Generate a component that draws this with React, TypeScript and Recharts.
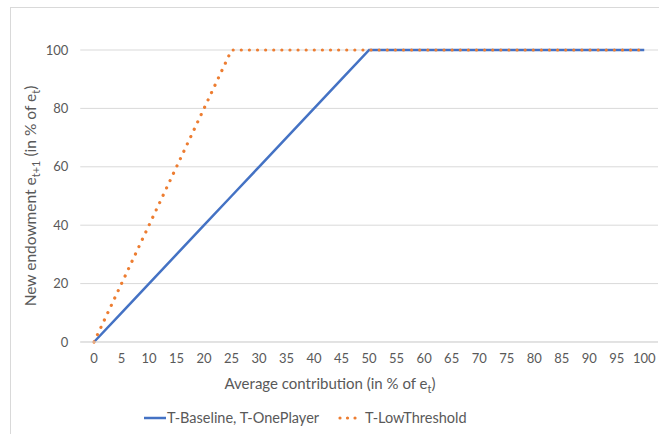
import { LineChart, Line, XAxis, YAxis, CartesianGrid, Label } from "recharts";

const contribution = [0, 5, 10, 15, 20, 25, 30, 35, 40, 45, 50, 55, 60, 65, 70, 75, 80, 85, 90, 95, 100];
const baseline = [0, 10, 20, 30, 40, 50, 60, 70, 80, 90, 100, 100, 100, 100, 100, 100, 100, 100, 100, 100, 100];
const lowThreshold = [0, 20, 40, 60, 80, 100, 100, 100, 100, 100, 100, 100, 100, 100, 100, 100, 100, 100, 100, 100, 100];
const yTicks = [0, 20, 40, 60, 80, 100];

const data = contribution.map((c, i) => ({
  c,
  baseline: baseline[i],
  low: lowThreshold[i],
}));

const BLUE = "#4472C4";
const ORANGE = "#ED7D31";
const TEXT = "#595959";
const FONT = "Lato, 'Open Sans', sans-serif";

function YTitle() {
  return (
    <text
      transform="translate(36,196) rotate(-90)"
      textAnchor="middle"
      fill={TEXT}
      fontSize={15.5}
      fontFamily={FONT}
    >
      New endowment e
      <tspan fontSize={11} dy={4}>t+1</tspan>
      <tspan dy={-4}> (in % of e</tspan>
      <tspan fontSize={11} dy={4}>t</tspan>
      <tspan dy={-4}>)</tspan>
    </text>
  );
}

function XTitle() {
  return (
    <text x={330} y={389} textAnchor="middle" fill={TEXT} fontSize={15} fontFamily={FONT}>
      Average contribution (in % of e
      <tspan fontSize={11} dy={4}>t</tspan>
      <tspan dy={-4}>)</tspan>
    </text>
  );
}

export default function App() {
  return (
    <div
      style={{
        position: "absolute",
        left: 0,
        top: 0,
        width: 659,
        height: 434,
        background: "#fff",
        overflow: "hidden",
      }}
    >
      <div
        style={{
          position: "absolute",
          left: 10,
          top: 7,
          width: 700,
          height: 440,
          border: "1px solid #d9d9d9",
          boxSizing: "border-box",
        }}
      />
      <LineChart
        width={659}
        height={434}
        data={data}
        margin={{ top: 50, right: 1, bottom: 62, left: 0 }}
        style={{ position: "absolute", left: 0, top: 0 }}
      >
        <CartesianGrid vertical={false} stroke="#d9d9d9" />
        <XAxis
          dataKey="c"
          type="number"
          domain={[-2.5, 102.5]}
          ticks={contribution}
          interval={0}
          height={30}
          tickLine={false}
          tickSize={0}
          tickMargin={12}
          axisLine={{ stroke: "#d9d9d9" }}
          tick={{ fill: TEXT, fontSize: 13, fontFamily: FONT }}
        >
          <Label content={() => <XTitle />} />
        </XAxis>
        <YAxis
          width={80.25}
          domain={[0, 100]}
          ticks={yTicks}
          axisLine={false}
          tickLine={false}
          tickSize={0}
          tickMargin={12}
          tick={{ fill: TEXT, fontSize: 13, fontFamily: FONT }}
        >
          <Label content={() => <YTitle />} />
        </YAxis>
        <Line
          dataKey="baseline"
          stroke={BLUE}
          strokeWidth={2.5}
          dot={false}
          activeDot={false}
          isAnimationActive={false}
        />
        <Line
          dataKey="low"
          stroke={ORANGE}
          strokeWidth={3.2}
          strokeDasharray="0.01 8.1"
          strokeLinecap="round"
          dot={false}
          activeDot={false}
          isAnimationActive={false}
        />
      </LineChart>
      <svg
        width={659}
        height={30}
        style={{ position: "absolute", left: 0, top: 404 }}
        fontFamily={FONT}
      >
        <line x1={144} y1={14} x2={166} y2={14} stroke={BLUE} strokeWidth={2.5} />
        <text x={167} y={19} fill={TEXT} fontSize={14.5}>
          T-Baseline, T-OnePlayer
        </text>
        <line
          x1={340}
          y1={14}
          x2={358}
          y2={14}
          stroke={ORANGE}
          strokeWidth={3.2}
          strokeDasharray="0.01 7.5"
          strokeLinecap="round"
        />
        <text x={365} y={19} fill={TEXT} fontSize={14.5}>
          T-LowThreshold
        </text>
      </svg>
    </div>
  );
}
